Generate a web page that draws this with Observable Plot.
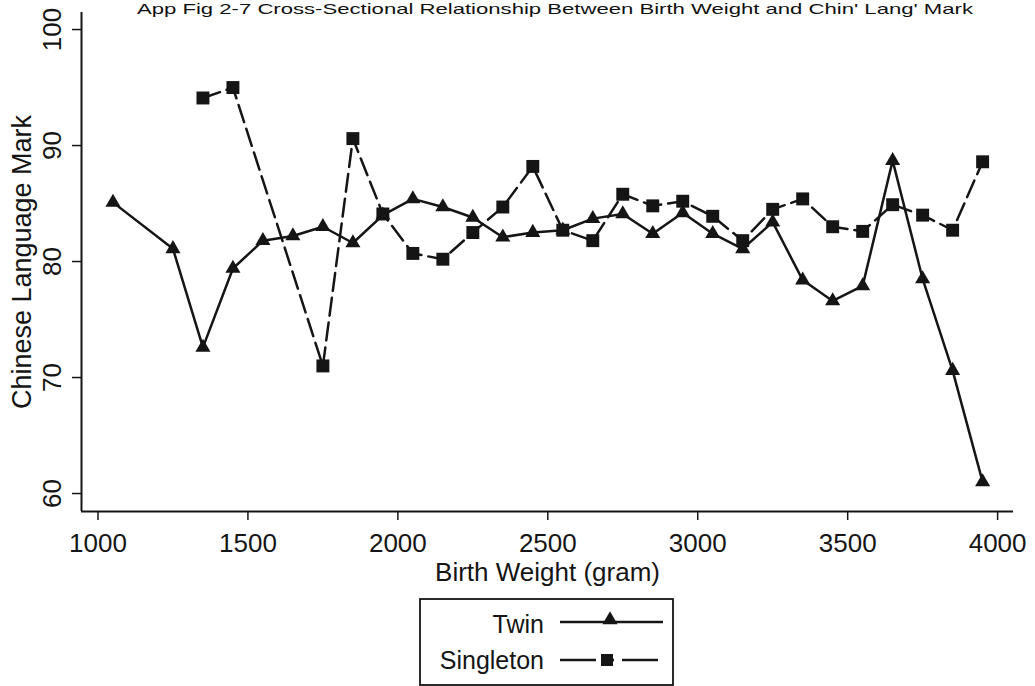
<!DOCTYPE html>
<html>
<head>
<meta charset="utf-8">
<script src="https://cdn.jsdelivr.net/npm/d3@7"></script>
<script src="https://cdn.jsdelivr.net/npm/@observablehq/plot@0.6"></script>
<style>
  html, body { margin: 0; padding: 0; background: #fff; overflow: hidden; }
  body { width: 1035px; height: 686px; position: relative; font-family: "Liberation Sans", Arial, sans-serif; color: #111; }
  #chart { position: absolute; left: 0; top: 0; }
  #title { position: absolute; left: 0; top: 0; }
  #legend { position: absolute; left: 419px; top: 598px; }
</style>
</head>
<body>
<div id="chart"></div>
<svg id="title" width="1035" height="22">
  <text x="555" y="14" text-anchor="middle" font-size="15" textLength="836" lengthAdjust="spacingAndGlyphs" fill="#111" font-family="Liberation Sans, Arial, sans-serif">App Fig 2-7 Cross-Sectional Relationship Between Birth Weight and Chin' Lang' Mark</text>
</svg>
<div id="legend"></div>
<script>
// ---- data ----
const twinWeights = [1050,1250,1350,1450,1550,1650,1750,1850,1950,2050,2150,2250,2350,2450,2550,2650,2750,2850,2950,3050,3150,3250,3350,3450,3550,3650,3750,3850,3950];
const twinMarks   = [85.1,81.1,72.6,79.4,81.8,82.2,83.0,81.6,84.0,85.4,84.7,83.8,82.1,82.5,82.7,83.7,84.1,82.4,84.2,82.4,81.1,83.4,78.4,76.6,77.9,88.7,78.5,70.6,61.0];
const singletonWeights = [1350,1450,1750,1850,1950,2050,2150,2250,2350,2450,2550,2650,2750,2850,2950,3050,3150,3250,3350,3450,3550,3650,3750,3850,3950];
const singletonMarks   = [94.1,95.0,71.0,90.6,84.1,80.7,80.2,82.5,84.7,88.2,82.7,81.8,85.8,84.8,85.2,83.9,81.8,84.5,85.4,83.0,82.6,84.9,84.0,82.7,88.6];
const xTicks = [1000,1500,2000,2500,3000,3500,4000];
const yTicks = [60,70,80,90,100];
const seriesNames = ["Twin","Singleton"];
const xLabel = "Birth Weight (gram)";
const yLabel = "Chinese Language Mark";

const twin = twinWeights.map((w,i) => ({w, m: twinMarks[i]}));
const singleton = singletonWeights.map((w,i) => ({w, m: singletonMarks[i]}));

const xDomain = [945, 4053];
const yDomain = [58.45, 101.47];
const ink = "#151515";
const fontSize = 26;

const chart = Plot.plot({
  width: 1035,
  height: 596,
  marginLeft: 81,
  marginRight: 22,
  marginTop: 12,
  marginBottom: 85,
  style: {fontFamily: "Liberation Sans, Arial, sans-serif", color: ink, background: "#fff"},
  x: {domain: xDomain},
  y: {domain: yDomain},
  marks: [
    Plot.ruleY([yDomain[0]], {stroke: ink, strokeWidth: 2}),
    Plot.ruleX([xDomain[0]], {stroke: ink, strokeWidth: 2}),
    Plot.axisX({ticks: xTicks, tickSize: 9, tickPadding: 13, tickFormat: d => String(d), fontSize, label: null, stroke: ink, strokeWidth: 1.5, fill: ink}),
    Plot.axisY({ticks: yTicks, tickSize: 9, tickFormat: () => "", label: null, stroke: ink, strokeWidth: 1.5}),
    Plot.text(yTicks, {y: d => d, frameAnchor: "left", dx: -29, rotate: -90, text: d => String(d), textAnchor: "middle", lineAnchor: "middle", fontSize, fill: ink}),
    Plot.text([xLabel], {frameAnchor: "bottom", dy: 61, text: d => d, lineAnchor: "middle", fontSize, fill: ink}),
    Plot.text([yLabel], {frameAnchor: "left", dx: -59, rotate: -90, text: d => d, lineAnchor: "middle", textAnchor: "middle", fontSize: 27, fill: ink}),
    Plot.line(singleton, {x: "w", y: "m", stroke: ink, strokeWidth: 2.5, strokeDasharray: "18,7"}),
    Plot.line(twin, {x: "w", y: "m", stroke: ink, strokeWidth: 2.5}),
    Plot.dot(singleton, {x: "w", y: "m", symbol: "square", r: 7.3, fill: ink, stroke: "none"}),
    Plot.dot(twin, {x: "w", y: "m", symbol: "triangle", r: 5.6, fill: ink, stroke: "none"})
  ]
});
document.getElementById("chart").appendChild(chart);

// ---- legend (drawn with plain SVG) ----
const ns = "http://www.w3.org/2000/svg";
const lg = document.createElementNS(ns, "svg");
lg.setAttribute("width", 256);
lg.setAttribute("height", 88);
lg.innerHTML = `
  <rect x="1" y="1" width="253" height="86" fill="#fff" stroke="${ink}" stroke-width="1.8"/>
  <text x="125" y="35" text-anchor="end" font-size="25" fill="${ink}" font-family="Liberation Sans, Arial, sans-serif">${seriesNames[0]}</text>
  <line x1="141" x2="244" y1="24" y2="24" stroke="${ink}" stroke-width="2.5"/>
  <path transform="translate(191,22)" d="${d3.symbol(d3.symbolTriangle, 98)()}" fill="${ink}"/>
  <text x="125" y="71" text-anchor="end" font-size="25" fill="${ink}" font-family="Liberation Sans, Arial, sans-serif">${seriesNames[1]}</text>
  <line x1="141" x2="244" y1="62" y2="62" stroke="${ink}" stroke-width="2.5" stroke-dasharray="36,10,8,8"/>
  <path transform="translate(188,62)" d="${d3.symbol(d3.symbolSquare, 144)()}" fill="${ink}"/>
`;
document.getElementById("legend").appendChild(lg);
</script>
</body>
</html>
